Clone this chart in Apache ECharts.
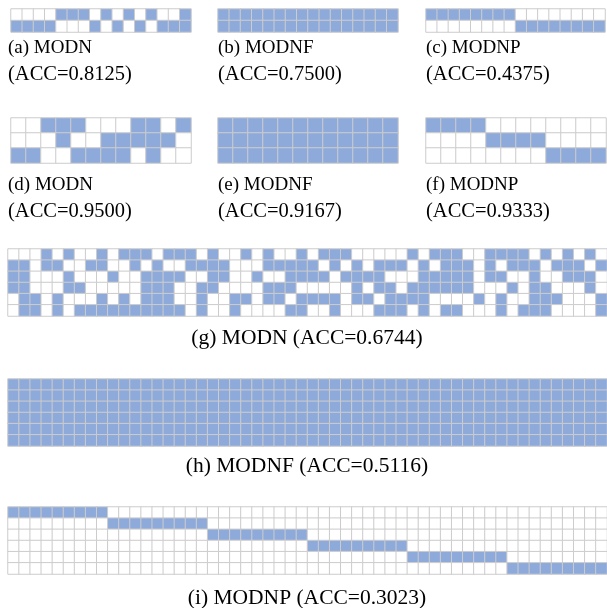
<!DOCTYPE html>
<html><head><meta charset="utf-8">
<script src="https://cdn.jsdelivr.net/npm/echarts@6/dist/echarts.min.js"></script>
<style>html,body{margin:0;padding:0;background:#fff}#chart{width:607px;height:608px}</style>
</head><body><div id="chart"></div>
<script>
// Prediction matrices: one string per class row, one character per sample (1 = selected)
const modnA  = ['0000111010101001', '1111000101010111'];
const modnfB = ['1111111111111111', '1111111111111111'];
const modnpC = ['1111111100000000', '0000000011111111'];

const modnD  = ['001110001101', '000100111110', '110011110100'];
const modnfE = ['111111111111', '111111111111', '111111111111'];
const modnpF = ['111100000000', '000011110000', '000000001111'];

const modnG = [
  '000101001 011101110 100101001 011100000 101110011 110101010',
  '110110011 001010011 110001111 101010111 010111010 111011101',
  '110001000 100111100 110010011 110111100 011111011 001001110',
  '110001100 000111001 100001110 000010110 111111000 101100010',
  '011010001 010111001 001101101 111011011 110000101 001110001',
  '011010111 111111101 001000011 001000111 010110001 011100001'
];
const modnfH = [
  '111111111 111111111 111111111 111111111 111111111 111111111',
  '111111111 111111111 111111111 111111111 111111111 111111111',
  '111111111 111111111 111111111 111111111 111111111 111111111',
  '111111111 111111111 111111111 111111111 111111111 111111111',
  '111111111 111111111 111111111 111111111 111111111 111111111',
  '111111111 111111111 111111111 111111111 111111111 111111111'
];
const modnpI = [
  '111111111 000000000 000000000 000000000 000000000 000000000',
  '000000000 111111111 000000000 000000000 000000000 000000000',
  '000000000 000000000 111111111 000000000 000000000 000000000',
  '000000000 000000000 000000000 111111111 000000000 000000000',
  '000000000 000000000 000000000 000000000 111111111 000000000',
  '000000000 000000000 000000000 000000000 000000000 111111111'
];

// Caption texts
const captions = {
  a: ['(a) MODN', '(ACC=0.8125)'],
  b: ['(b) MODNF', '(ACC=0.7500)'],
  c: ['(c) MODNP', '(ACC=0.4375)'],
  d: ['(d) MODN', '(ACC=0.9500)'],
  e: ['(e) MODNF', '(ACC=0.9167)'],
  f: ['(f) MODNP', '(ACC=0.9333)'],
  g: '(g) MODN (ACC=0.6744)',
  h: '(h) MODNF (ACC=0.5116)',
  i: '(i) MODNP (ACC=0.3023)'
};

// Panel placement in pixels
const panels = [
  {rows: modnA,  left: 11,  top: 9,   width: 180, height: 23},
  {rows: modnfB, left: 218, top: 9,   width: 180, height: 23},
  {rows: modnpC, left: 426, top: 9,   width: 179, height: 23},
  {rows: modnD,  left: 11,  top: 118, width: 180, height: 45},
  {rows: modnfE, left: 218, top: 118, width: 180, height: 45},
  {rows: modnpF, left: 426, top: 118, width: 180, height: 45},
  {rows: modnG,  left: 8,   top: 249, width: 600, height: 67},
  {rows: modnfH, left: 8,   top: 379, width: 600, height: 67},
  {rows: modnpI, left: 8,   top: 507, width: 600, height: 67}
];

const BLUE = '#8eaadb';
const LINE = '#cccccc';

const grids = [], xAxes = [], yAxes = [], series = [];
panels.forEach((p, i) => {
  const rows = p.rows.map(s => s.replace(/\s+/g, '').split('').map(Number));
  grids.push({left: p.left, top: p.top, width: p.width, height: p.height});
  xAxes.push({type: 'category', gridIndex: i, show: false,
    data: rows[0].map((_, c) => c)});
  yAxes.push({type: 'category', gridIndex: i, show: false, inverse: true,
    data: rows.map((_, r) => r)});
  const data = [];
  rows.forEach((row, r) => row.forEach((v, c) => data.push([c, r, v])));
  series.push({
    type: 'heatmap', xAxisIndex: i, yAxisIndex: i, data: data,
    itemStyle: {borderColor: LINE, borderWidth: 1},
    emphasis: {disabled: true}, animation: false
  });
});

const FONT = '"Liberation Serif", "Times New Roman", serif';
const caption = (x, y, txt, size, align) => ({
  type: 'text', x: x, y: y,
  style: {text: txt, font: size + 'px ' + FONT, fill: '#000',
    textAlign: align || 'left', textVerticalAlign: 'middle'}
});

const graphics = [];
[['a', 8, 48], ['b', 218, 48], ['c', 426, 48],
 ['d', 8, 185], ['e', 218, 185], ['f', 426, 185]].forEach(([k, x, y]) => {
  graphics.push(caption(x, y, captions[k][0], 19));
  graphics.push(caption(x, y + 27, captions[k][1], 20.5));
});
graphics.push(caption(307, 338, captions.g, 21.5, 'center'));
graphics.push(caption(307, 466, captions.h, 21.5, 'center'));
graphics.push(caption(307, 598, captions.i, 21.5, 'center'));

const chart = echarts.init(document.getElementById('chart'), null, {renderer: 'canvas'});
chart.setOption({
  animation: false,
  grid: grids, xAxis: xAxes, yAxis: yAxes, series: series,
  visualMap: {
    type: 'piecewise', show: false, dimension: 2,
    seriesIndex: series.map((_, i) => i),
    pieces: [{value: 0, color: '#ffffff'}, {value: 1, color: BLUE}]
  },
  graphic: graphics
});
</script>
</body></html>
